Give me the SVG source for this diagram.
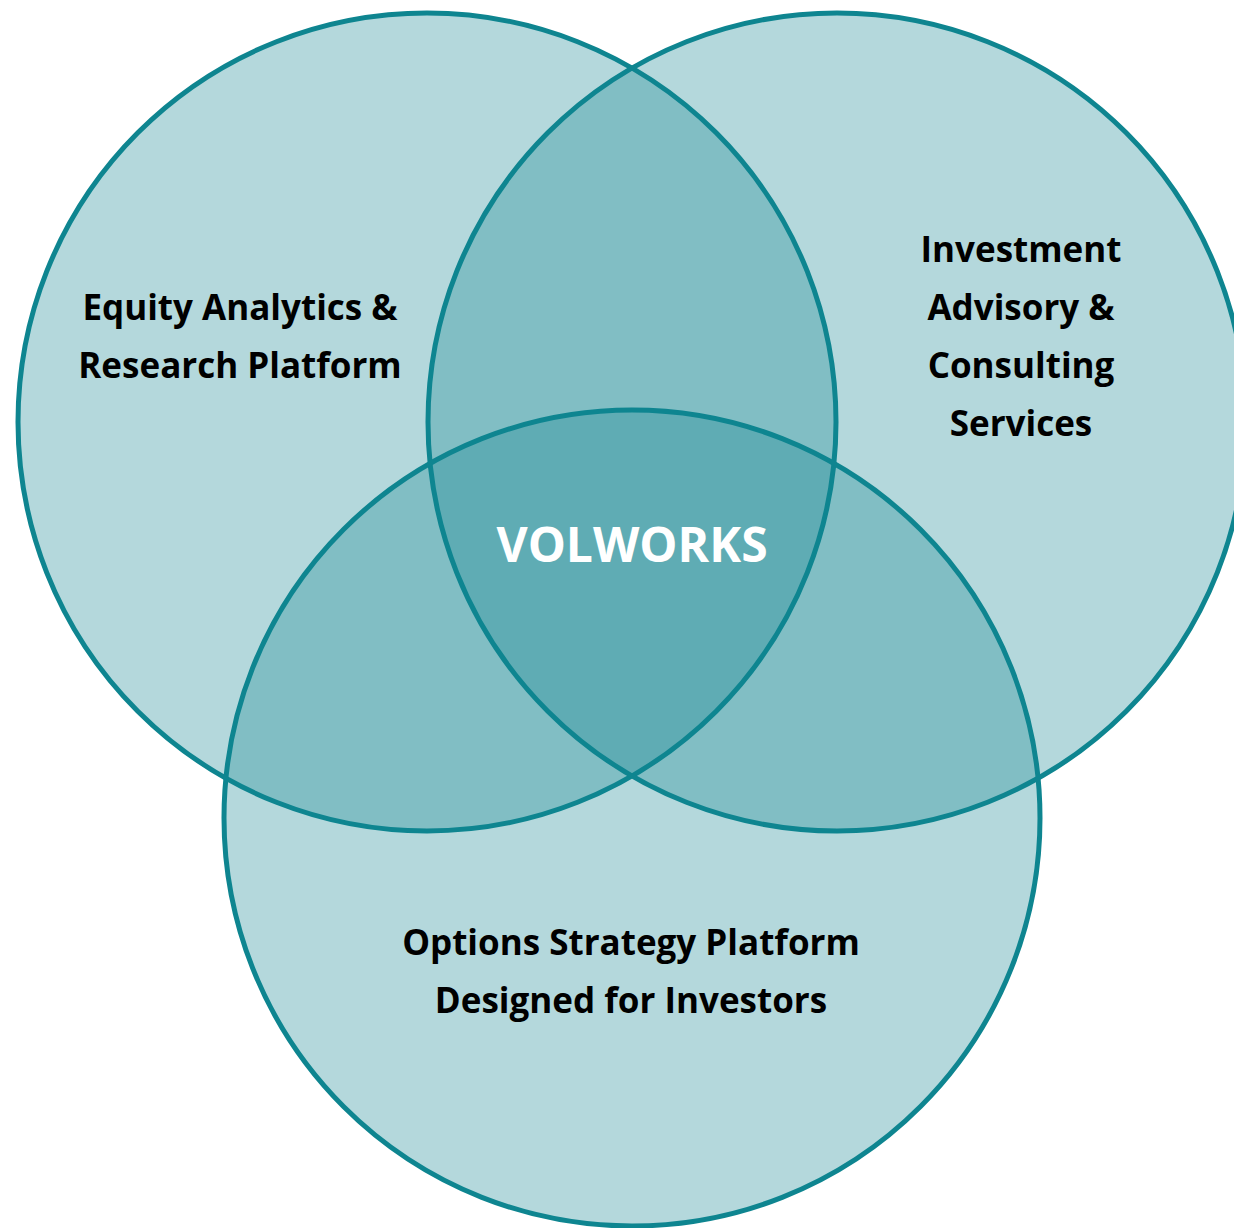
<svg xmlns="http://www.w3.org/2000/svg" width="1234" height="1228" viewBox="0 0 1234 1228">
<style>
.fill{fill:rgb(26,138,148);fill-opacity:0.33;stroke:none}
.ring{fill:none;stroke:#0E8590;stroke-width:5}
.lbl{font-family:"Open Sans",Lato,sans-serif;font-weight:bold;font-size:35px;fill:#000;text-anchor:middle}
.core{font-family:"Open Sans",Lato,sans-serif;font-weight:bold;font-size:48px;fill:#fff;text-anchor:middle}
</style>
<rect width="1234" height="1228" fill="#fff"/>
<g id="fills">
<circle class="fill" cx="427" cy="422" r="409"/>
<circle class="fill" cx="837" cy="422" r="409"/>
<circle class="fill" cx="632" cy="818" r="408"/>
</g>
<g id="node-equity">
<circle class="ring" cx="427" cy="422" r="409"/>
<text class="lbl" x="240" y="320">Equity Analytics &amp;</text>
<text class="lbl" x="240" y="378">Research Platform</text>
</g>
<g id="node-advisory">
<circle class="ring" cx="837" cy="422" r="409"/>
<text class="lbl" x="1021" y="262">Investment</text>
<text class="lbl" x="1021" y="320">Advisory &amp;</text>
<text class="lbl" x="1021" y="378">Consulting</text>
<text class="lbl" x="1021" y="436">Services</text>
</g>
<g id="node-options">
<circle class="ring" cx="632" cy="818" r="408"/>
<text class="lbl" x="631" y="955">Options Strategy Platform</text>
<text class="lbl" x="631" y="1013">Designed for Investors</text>
</g>
<g id="node-volworks">
<text class="core" x="632" y="562">VOLWORKS</text>
</g>
<g id="connectors"/>
</svg>
